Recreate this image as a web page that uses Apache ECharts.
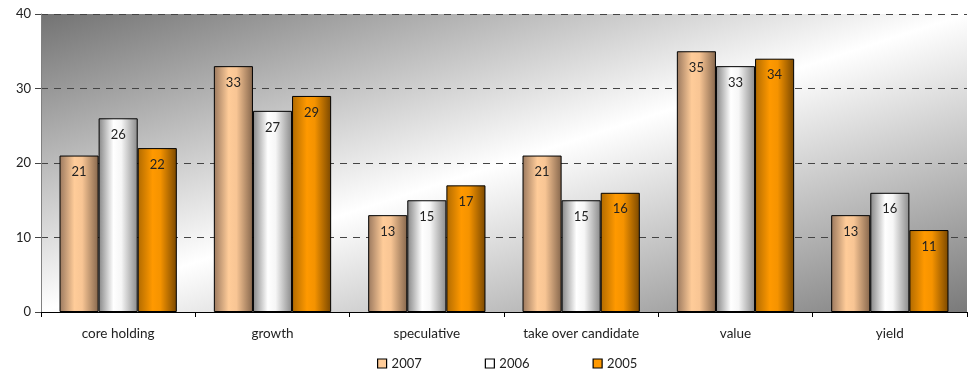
<!DOCTYPE html>
<html><head><meta charset="utf-8">
<script src="https://cdn.jsdelivr.net/npm/echarts@6/dist/echarts.min.js"></script>
<style>html,body{margin:0;padding:0;background:#fff}#c{width:975px;height:372px}</style>
</head><body><div id="c"></div>
<script>
var categories = ['core holding','growth','speculative','take over candidate','value','yield'];
var s2007 = [21,33,13,21,35,13];
var s2006 = [26,27,15,15,33,16];
var s2005 = [22,29,17,16,34,11];
var seriesNames = ['2007','2006','2005'];

function grad(a,b,c,d){
  return {type:'linear',x:0,y:0,x2:1,y2:0,colorStops:[
    {offset:0,color:a},{offset:0.38,color:b},{offset:0.58,color:c},{offset:1,color:d}]};
}
var fills = [
  grad('#9a785e','#ffcc99','#f8c594','#85664c'),
  grad('#858585','#ffffff','#f6f6f6','#8a8a8a'),
  grad('#b06a00','#ff9900','#f59300','#7a4800')
];
var solid = ['#ffcc99','#ffffff','#ff9900'];
var font = 'Lato';
var W = 926, H = 298;
var gx2 = 2*H*H/(W*W+H*H), gy2 = 2*W*W/(W*W+H*H);
var chart = echarts.init(document.getElementById('c'));
var data = [s2007,s2006,s2005];
chart.setOption({
  animation:false,
  textStyle:{fontFamily:font},
  grid:{left:41,right:8,top:14,bottom:60,show:true,borderWidth:0,
    backgroundColor:{type:'linear',x:0,y:0,x2:gx2,y2:gy2,colorStops:[
      {offset:0,color:'#737373'},{offset:0.5,color:'#ffffff'},{offset:1,color:'#7a7a7a'}]}},
  legend:{top:352,left:372,itemGap:63,itemWidth:9,itemHeight:9,icon:'rect',
    textStyle:{fontFamily:font,fontSize:13,color:'#222'},
    data:seriesNames.map(function(n,i){return {name:n,itemStyle:{color:solid[i],borderColor:'#000',borderWidth:1.2}};})},
  xAxis:{type:'category',data:categories,
    axisLine:{lineStyle:{color:'#000',width:1}},
    axisTick:{show:true,length:5,lineStyle:{color:'#000'}},
    axisLabel:{fontFamily:font,fontSize:13.5,color:'#222',margin:15}},
  yAxis:{type:'value',min:0,max:40,interval:10,
    axisLine:{show:true,lineStyle:{color:'#808080',width:1}},
    axisTick:{show:true,length:6,lineStyle:{color:'#444'}},
    axisLabel:{fontFamily:font,fontSize:13,color:'#222',margin:10},
    splitLine:{lineStyle:{color:'#444',type:[7,6],width:1}}},
  series:data.map(function(d,i){return {
    name:seriesNames[i],type:'bar',data:d,barGap:'0%',barCategoryGap:'24%',
    itemStyle:{color:fills[i],borderColor:'#000',borderWidth:1},
    label:{show:true,position:'insideTop',distance:10,fontFamily:font,fontSize:13,color:'#222'}
  };})
});
</script></body></html>
